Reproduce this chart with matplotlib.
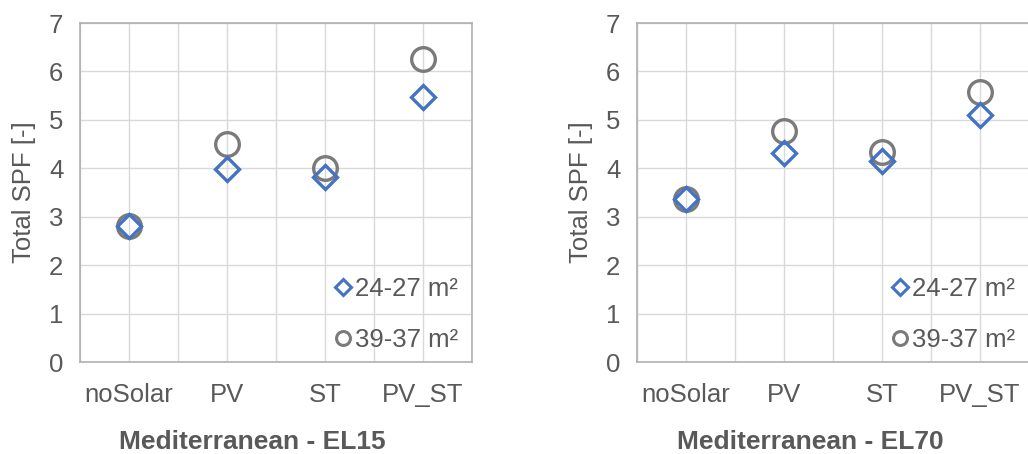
import numpy as np
import matplotlib
matplotlib.use("Agg")
import matplotlib.pyplot as plt
from matplotlib.ticker import MultipleLocator

plt.rcParams['font.family'] = ['Liberation Sans', 'DejaVu Sans']

# Data
categories = ['noSolar', 'PV', 'ST', 'PV_ST']
series_labels = ['24-27 m²', '39-37 m²']
titles = ['Mediterranean - EL15', 'Mediterranean - EL70']

el15_small = [2.80, 3.99, 3.83, 5.48]
el15_large = [2.80, 4.50, 4.01, 6.26]
el70_small = [3.37, 4.32, 4.15, 5.10]
el70_large = [3.37, 4.77, 4.33, 5.57]

panels = [(el15_small, el15_large), (el70_small, el70_large)]

blue = '#4472C4'
grey = '#7a7a7a'
text_col = '#595959'
fs = 18.5

fig = plt.figure(figsize=(10.28, 4.54), dpi=100)
axes_rects = [(80, 472), (637, 1029)]
title_x = [252, 810]
W, H = 1028, 454

for (x0, x1), (small, large), title, tx in zip(axes_rects, panels, titles, title_x):
    ax = fig.add_axes([x0 / W, (H - 362) / H, (x1 - x0) / W, (362 - 23) / H])
    x = np.arange(len(categories))
    ax.plot(x, large, linestyle='none', marker='o', markersize=17,
            markerfacecolor='none', markeredgecolor=grey, markeredgewidth=2.4,
            zorder=3)
    ax.plot(x, small, linestyle='none', marker='D', markersize=12,
            markerfacecolor='none', markeredgecolor=blue, markeredgewidth=2.4,
            zorder=4)

    ax.set_xlim(-0.5, len(categories) - 0.5)
    ax.set_ylim(0, 7)
    ax.set_xticks(x)
    ax.set_xticklabels(categories)
    ax.xaxis.set_minor_locator(MultipleLocator(0.5))
    ax.yaxis.set_major_locator(MultipleLocator(1))
    ax.grid(True, which='both', color='#d9d9d9', linewidth=1.0)
    ax.set_axisbelow(True)
    ax.tick_params(axis='both', which='both', length=0, labelsize=fs,
                   colors=text_col)
    ax.tick_params(axis='x', pad=15)
    ax.tick_params(axis='y', pad=12)
    for s in ax.spines.values():
        s.set_color('#b0b0b0')
        s.set_linewidth(1.2)
    ax.set_ylabel('Total SPF [-]', fontsize=fs, color=text_col, labelpad=9)

    leg_handles = [plt.Line2D([], [], linestyle='none', marker='D', markersize=8,
                              markerfacecolor='none', markeredgecolor=blue,
                              markeredgewidth=2.2),
                   plt.Line2D([], [], linestyle='none', marker='o', markersize=10,
                              markerfacecolor='none', markeredgecolor=grey,
                              markeredgewidth=2.2)]
    leg = ax.legend(leg_handles, series_labels, loc='lower right',
                    frameon=False, fontsize=fs, handlelength=0.6,
                    handletextpad=0.15, labelspacing=1.05,
                    bbox_to_anchor=(0.99, 0.0), borderaxespad=0.0)
    for t in leg.get_texts():
        t.set_color(text_col)

    fig.text(tx / W, (H - 442) / H, title, ha='center', va='center',
             fontsize=19, fontweight='bold', color=text_col)

fig.savefig('out.png', dpi=100)
